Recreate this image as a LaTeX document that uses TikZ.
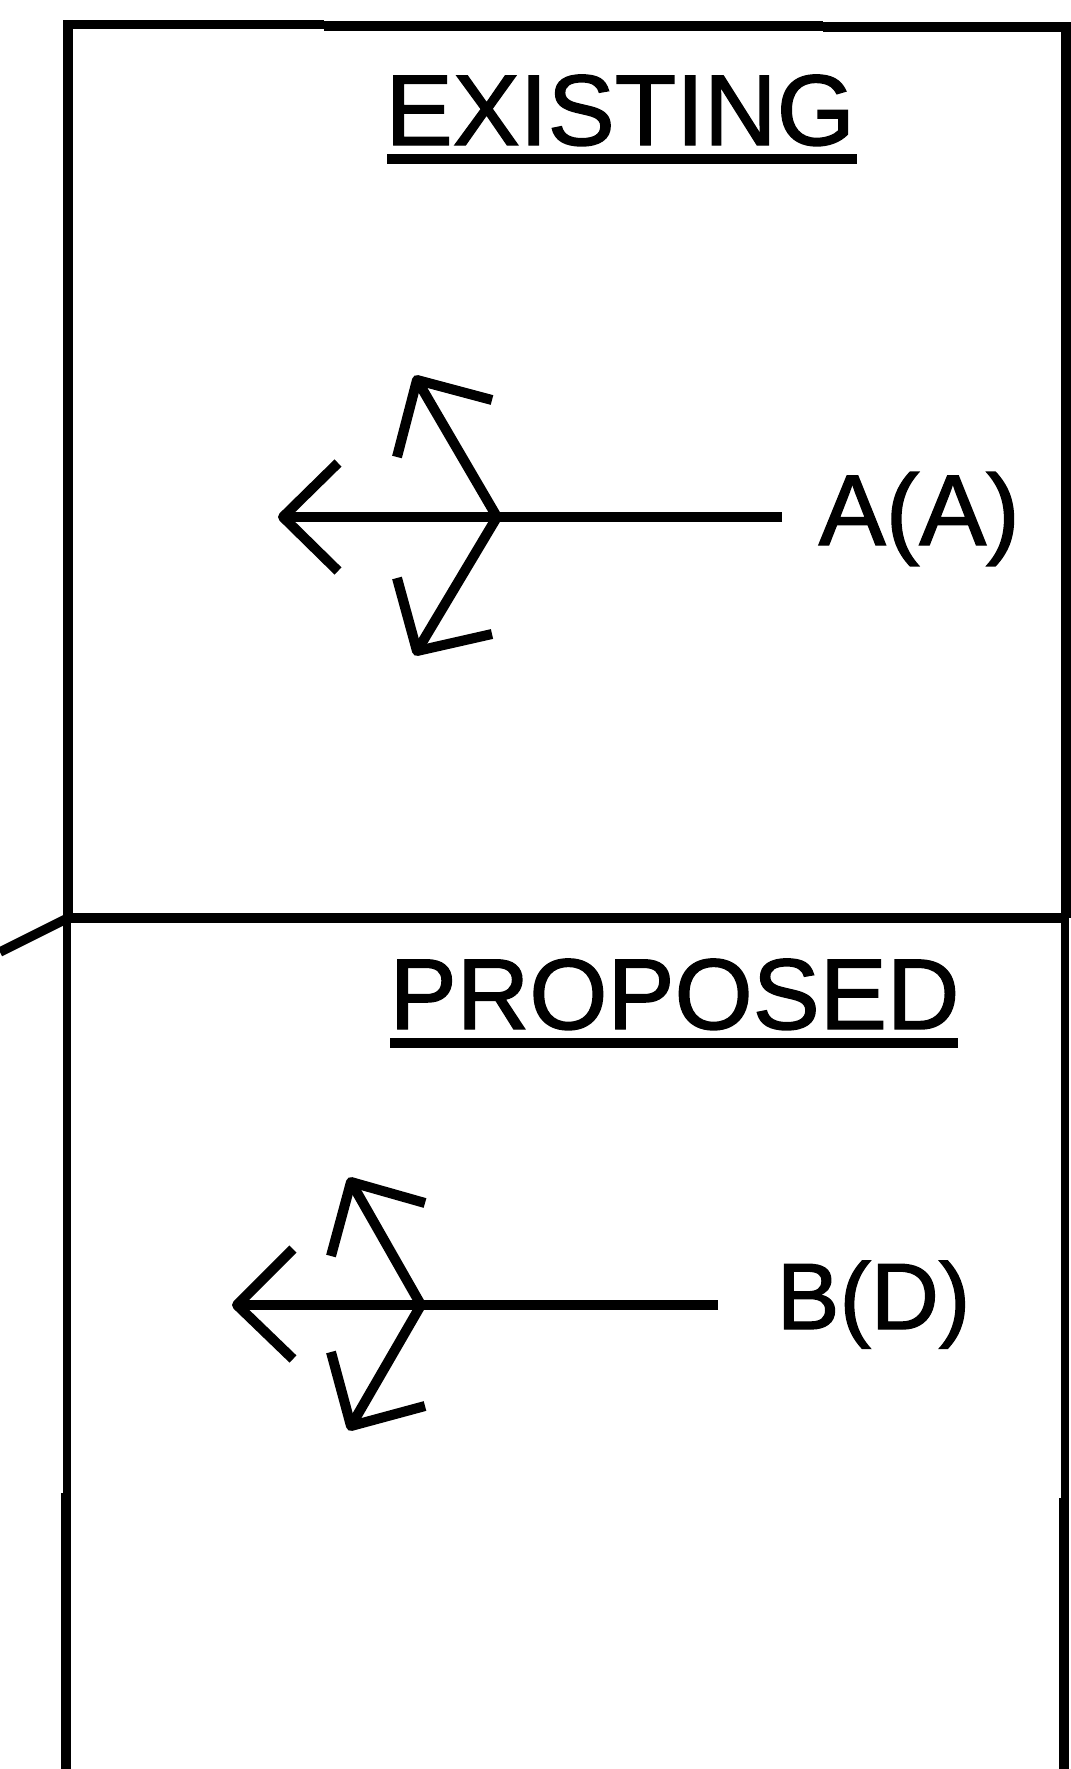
\documentclass[tikz,border=0pt]{standalone}
\usepackage{fontspec}
\setmainfont{Liberation Sans}
\newfontfamily\heavyfont[FakeBold=1.4]{Liberation Sans}
\usepackage{tikz}
\tikzset{
	frameline/.style={line width = 0.095cm},
	arrowline/.style={line width = 0.1cm, line join=round},
	thinline/.style={line width = 0.078cm},
	wideline/.style={line width = 0.1cm},
	title/.style={inner sep=0pt, anchor=base west, font=\heavyfont\fontsize{28.6}{28.6}\selectfont},
	labela/.style={inner sep=0pt, anchor=base west, font=\heavyfont\fontsize{28.6}{28.6}\selectfont},
	labelb/.style={inner sep=0pt, anchor=base west, font=\heavyfont\fontsize{26.8}{26.8}\selectfont}
}
\begin{document}
\begin{tikzpicture}
	\useasboundingbox (0,0)rectangle(10.71,-17.69);
	% frame
	\coordinate (topleft) at (0.68,-0.245);
	\coordinate (topa) at (3.24,-0.245);
	\coordinate (topb) at (3.24,-0.26);
	\coordinate (topc) at (8.23,-0.26);
	\coordinate (topd) at (8.23,-0.27);
	\coordinate (topright) at (10.66,-0.27);
	\coordinate (midleft) at (0.68,-9.18);
	\coordinate (midright) at (10.66,-9.18);
	\coordinate (lowleft) at (0.67,-9.18);
	\coordinate (lowright) at (10.65,-9.18);
	\coordinate (jogleft) at (0.67,-14.93);
	\coordinate (jogleftb) at (0.66,-14.93);
	\coordinate (jogright) at (10.65,-14.98);
	\coordinate (jogrightb) at (10.64,-14.98);
	\coordinate (botleft) at (0.66,-17.69);
	\coordinate (botright) at (10.64,-17.69);
	\coordinate (leadout) at (0,-9.52);
	\draw [frameline] (midleft)--(topleft)--(topa);
	\draw [frameline] (topb)--(topc);
	\draw [frameline] (topd)--(topright)--(midright);
	\draw [frameline] (midleft)--(midright);
	\draw [thinline] (lowleft)--(jogleft);
	\draw [thinline] (lowright)--(jogright);
	\draw [wideline] (jogleftb)--(botleft);
	\draw [wideline] (jogrightb)--(botright);
	\draw [frameline] (leadout)--(midleft);
	% titles
	\node [title] (existing) at (3.85,-1.45){EXISTING};
	\node [title] (proposed) at (3.89,-10.29){PROPOSED};
	\coordinate (existingl) at (3.87,-1.59);
	\coordinate (existingr) at (8.57,-1.59);
	\coordinate (proposedl) at (3.90,-10.43);
	\coordinate (proposedr) at (9.58,-10.43);
	\draw [wideline] (existingl)--(existingr);
	\draw [wideline] (proposedl)--(proposedr);
	% existing arrows
	\node [labela] (nodea) at (8.18,-5.45){A(A)};
	\coordinate (atail) at (7.82,-5.17);
	\coordinate (acentre) at (4.97,-5.17);
	\coordinate (aleft) at (2.83,-5.17);
	\coordinate (aleftu) at (3.38,-4.63);
	\coordinate (aleftd) at (3.38,-5.71);
	\coordinate (aup) at (4.17,-3.80);
	\coordinate (aupl) at (3.97,-4.57);
	\coordinate (aupr) at (4.92,-4.00);
	\coordinate (adown) at (4.17,-6.51);
	\coordinate (adownl) at (3.97,-5.78);
	\coordinate (adownr) at (4.92,-6.34);
	\draw [arrowline] (atail)--(aleft);
	\draw [arrowline] (aleftu)--(aleft)--(aleftd);
	\draw [arrowline] (acentre)--(aup);
	\draw [arrowline] (aupl)--(aup)--(aupr);
	\draw [arrowline] (acentre)--(adown);
	\draw [arrowline] (adownl)--(adown)--(adownr);
	% proposed arrows
	\node [labelb] (nodeb) at (7.76,-13.29){B(D)};
	\coordinate (btail) at (7.18,-13.05);
	\coordinate (bcentre) at (4.21,-13.05);
	\coordinate (bleft) at (2.37,-13.05);
	\coordinate (bleftu) at (2.93,-12.49);
	\coordinate (bleftd) at (2.93,-13.59);
	\coordinate (bup) at (3.51,-11.82);
	\coordinate (bupl) at (3.31,-12.56);
	\coordinate (bupr) at (4.25,-12.03);
	\coordinate (bdown) at (3.51,-14.26);
	\coordinate (bdownl) at (3.31,-13.52);
	\coordinate (bdownr) at (4.25,-14.06);
	\draw [arrowline] (btail)--(bleft);
	\draw [arrowline] (bleftu)--(bleft)--(bleftd);
	\draw [arrowline] (bcentre)--(bup);
	\draw [arrowline] (bupl)--(bup)--(bupr);
	\draw [arrowline] (bcentre)--(bdown);
	\draw [arrowline] (bdownl)--(bdown)--(bdownr);
\end{tikzpicture}
\end{document}
